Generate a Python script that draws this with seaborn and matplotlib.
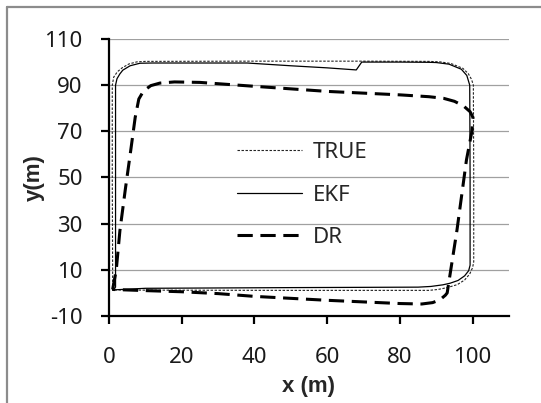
import matplotlib
matplotlib.use("Agg")
import matplotlib.pyplot as plt
from matplotlib.lines import Line2D
import seaborn as sns

# Trajectories (metres), each a closed loop from bottom-left
true_x = [1.0, 1.0, 0.9, 0.9, 1.3, 2.3, 3.6, 5.5, 7.7, 10, 40, 70, 88, 91, 94, 97.3,
          98.8, 99.7, 100.2, 100.3, 100.3, 100.0, 99.2, 97.8, 95.8, 93.0, 90.5, 88.0, 50, 10, 1.0]
true_y = [1.3, 10, 50, 90, 93.5, 95.8, 97.5, 99.2, 100.1, 100.3, 100.4, 100.4, 100.3, 100.1,
          99.4, 97.3, 95.0, 92.5, 90.0, 50, 13.5, 11.0, 8.2, 5.6, 3.6, 2.3, 1.5, 1.1, 1.1, 1.2, 1.3]

ekf_x = [1.0, 1.8, 1.8, 1.8, 2.2, 3.0, 3.8, 5.8, 8.5, 12, 25, 38, 50, 60, 68.0, 69.5,
         80, 88, 90, 93.5, 96.9, 98.4, 99.2, 99.3, 99.3, 98.9, 97.8, 96.0, 93.8, 91.8,
         88.5, 85, 50, 10, 1.0]
ekf_y = [1.3, 2.5, 50, 90, 92.8, 94.9, 96.5, 98.4, 99.5, 99.6, 99.6, 99.6, 98.4, 97.5,
         96.6, 100.0, 100.0, 99.9, 99.8, 99.1, 96.9, 94.2, 90.0, 50, 12.0, 9.6, 7.4, 5.4,
         4.2, 3.5, 2.8, 2.5, 2.3, 2.0, 1.3]

dr_x = [1.0, 2.0, 3.0, 4.5, 6.0, 7.2, 8.2, 9.5, 11.5, 14, 18, 25, 40, 60, 80, 88, 92,
        95, 97.5, 99.3, 100.1, 99.8, 98.3, 95.7, 93.0, 92.5, 91.0, 89.0, 86.0, 80, 60,
        40, 30, 20, 10, 1.0]
dr_y = [1.5, 10, 27, 45, 62, 76, 84, 87.5, 89.8, 90.9, 91.4, 91.2, 89.5, 87.3, 85.8, 85.0,
        84.3, 83.0, 81.0, 78.5, 76.0, 70.0, 57.6, 27.3, 0.0, -1.0, -3.0, -4.2, -4.8, -4.6,
        -3.2, -1.5, -0.3, 0.5, 1.0, 1.5]

x_ticks = [0, 20, 40, 60, 80, 100]
y_ticks = [-10, 10, 30, 50, 70, 90, 110]
series_labels = ["TRUE", "EKF", "DR"]

sns.set_style("white")
plt.rcParams["font.family"] = ["Noto Sans", "DejaVu Sans"]
plt.rcParams["axes.unicode_minus"] = False

fig = plt.figure(figsize=(5.41, 4.03), dpi=100)
ax = fig.add_axes([109 / 541, 1 - 316 / 403, 400 / 541, 277 / 403])

ax.set_xlim(0, 110)
ax.set_ylim(-10, 110)
ax.set_yticks(y_ticks)
ax.set_xticks(x_ticks)
ax.yaxis.grid(True, color="#a0a0a0", linewidth=0.9)
ax.set_axisbelow(True)

sns.lineplot(x=true_x, y=true_y, sort=False, estimator=None, ax=ax, color="#222222",
             linewidth=0.8, linestyle=(0, (2.2, 1.4)), label=series_labels[0])
sns.lineplot(x=ekf_x, y=ekf_y, sort=False, estimator=None, ax=ax, color="black",
             linewidth=0.9, label=series_labels[1])
sns.lineplot(x=dr_x, y=dr_y, sort=False, estimator=None, ax=ax, color="black",
             linewidth=2.2, linestyle=(0, (5, 2.5)), label=series_labels[2])

ax.legend(loc="upper left", bbox_to_anchor=(0.32, 0.628), frameon=False, fontsize=16,
          borderpad=0, borderaxespad=0, handlelength=2.93, handletextpad=0.5,
          labelspacing=0.97)

for side in ["top", "right"]:
    ax.spines[side].set_visible(False)
for side in ["left", "bottom"]:
    ax.spines[side].set_color("black")
    ax.spines[side].set_linewidth(1.6)

ax.tick_params(axis="both", direction="out", length=6, width=1.6, color="black",
               labelsize=16, labelcolor="#1a1a1a")
ax.tick_params(axis="y", pad=13, left=True)
ax.tick_params(axis="x", pad=16, bottom=True)

label_font = {"family": ["Liberation Sans", "DejaVu Sans"], "weight": "bold", "size": 16}
ax.set_xlabel("x (m)", fontdict=label_font, labelpad=6)
ax.set_ylabel("y(m)", fontdict=label_font, labelpad=0)

# chart-area border of the original screenshot (only top and left are in frame)
fig.add_artist(Line2D([7 / 541, 7 / 541], [0, 1 - 7 / 403], transform=fig.transFigure,
                      color="#8c8c8c", linewidth=1.6))
fig.add_artist(Line2D([7 / 541, 1], [1 - 7 / 403, 1 - 7 / 403], transform=fig.transFigure,
                      color="#8c8c8c", linewidth=1.6))

fig.savefig("out.png", dpi=100)
plt.close(fig)
